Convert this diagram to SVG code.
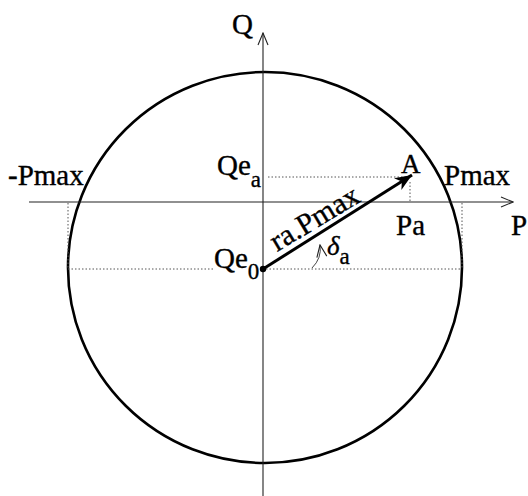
<svg xmlns="http://www.w3.org/2000/svg" width="528" height="496" viewBox="0 0 528 496">
<style>
.lbl{font-family:"Liberation Serif","Times New Roman",serif;font-size:29px;fill:#000;stroke:#000;stroke-width:0.35}
.sub{font-size:23px}
.axis{stroke:#222;stroke-width:1.1;fill:none}
.dot{stroke:#555;stroke-width:1;stroke-dasharray:1.5 2;fill:none}
</style>
<defs>
<marker id="open" viewBox="0 0 14 12" refX="13" refY="6" markerWidth="14" markerHeight="12" markerUnits="userSpaceOnUse" orient="auto">
<path d="M1 1 L13 6 L1 11" fill="none" stroke="#222" stroke-width="1.1"/>
</marker>
<marker id="solid" viewBox="0 0 18 14" refX="17" refY="7" markerWidth="18" markerHeight="14" markerUnits="userSpaceOnUse" orient="auto">
<path d="M0 0 L17 7 L0 14 L5 7 Z" fill="#000"/>
</marker>
</defs>
<rect width="528" height="496" fill="#fff"/>
<g id="circle">
<ellipse cx="265" cy="267.5" rx="197" ry="195.5" fill="none" stroke="#000" stroke-width="2.6"/>
</g>
<g id="connectors">
<line class="axis" x1="29" y1="202" x2="513" y2="202" marker-end="url(#open)"/>
<line class="axis" x1="263" y1="496" x2="263" y2="33" marker-end="url(#open)"/>
<line class="dot" x1="68" y1="269" x2="213" y2="269"/>
<line class="dot" x1="266" y1="269" x2="462" y2="269"/>
<line class="dot" x1="68" y1="203" x2="68" y2="269"/>
<line class="dot" x1="462" y1="203" x2="462" y2="269"/>
<line class="dot" x1="268" y1="177" x2="407" y2="177"/>
<line class="dot" x1="410" y1="182" x2="410" y2="202"/>
<line x1="263" y1="269" x2="412" y2="175" stroke="#000" stroke-width="3" marker-end="url(#solid)"/>
<path d="M312 268 Q322 258 320 245" fill="none" stroke="#444" stroke-width="1" marker-end="url(#open)"/>
<circle cx="263" cy="269" r="3.2" fill="#000"/>
</g>
<g id="labels">
<text class="lbl" x="232" y="34">Q</text>
<text class="lbl" x="8" y="185">-Pmax</text>
<text class="lbl" x="444" y="185">Pmax</text>
<text class="lbl" x="511" y="235">P</text>
<text class="lbl" x="396" y="235">Pa</text>
<text class="lbl" x="401" y="173" style="font-size:27px">A</text>
<text class="lbl" x="217" y="175">Qe<tspan class="sub" dy="12">a</tspan></text>
<text class="lbl" x="214" y="268">Qe<tspan class="sub" dy="11">0</tspan></text>
<text class="lbl" transform="translate(277,252) rotate(-31)" style="font-size:30px">ra.Pmax</text>
<text class="lbl" x="327" y="255" style="font-style:italic;font-size:27px">δ<tspan class="sub" style="font-style:normal" dy="9">a</tspan></text>
</g>
</svg>
